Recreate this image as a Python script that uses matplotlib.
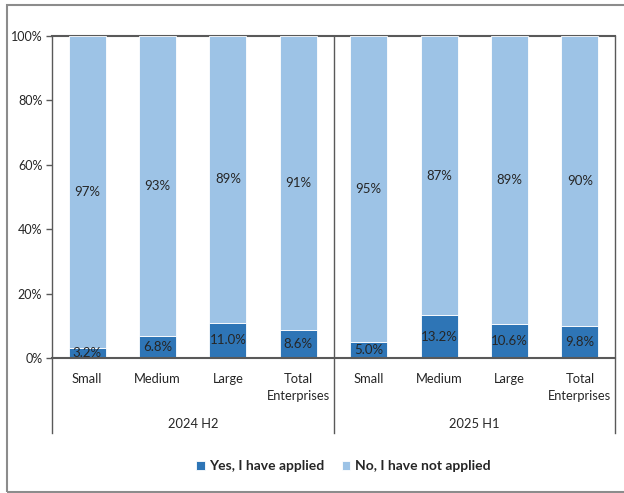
import numpy as np
import matplotlib.pyplot as plt
from matplotlib.patches import Rectangle

plt.rcParams['font.family'] = ['Lato', 'DejaVu Sans']

categories = ['Small', 'Medium', 'Large', 'Total\nEnterprises',
              'Small', 'Medium', 'Large', 'Total\nEnterprises']
periods = ['2024 H2', '2025 H1']
yes_applied = [3.2, 6.8, 11.0, 8.6, 5.0, 13.2, 10.6, 9.8]
no_labels = [97, 93, 89, 91, 95, 87, 89, 90]

c_yes = '#2E75B6'
c_no = '#9DC3E6'
c_line = '#595959'
c_text = '#262626'

fig = plt.figure(figsize=(6.24, 4.93), dpi=100)
ax = fig.add_axes([52/624, 1 - 358/493, (615 - 52)/624, (358 - 36)/493])

x = np.arange(len(categories))
yes = np.array(yes_applied)
no_part = 100 - yes

ax.bar(x, yes, width=0.525, color=c_yes, edgecolor='white', linewidth=0.6,
       zorder=3, label='Yes, I have applied')
ax.bar(x, no_part, bottom=yes, width=0.525, color=c_no, edgecolor='white',
       linewidth=0.6, zorder=3, label='No, I have not applied')

for xi, y_val, n_val in zip(x, yes_applied, no_labels):
    ax.text(xi, y_val / 2, f'{y_val:.1f}%', ha='center', va='center',
            fontsize=9.5, color=c_text, zorder=4)
    ax.text(xi, y_val + (100 - y_val) / 2, f'{n_val}%', ha='center', va='center',
            fontsize=9.5, color=c_text, zorder=4)

ax.set_xlim(-0.5, len(categories) - 0.5)
ax.set_ylim(0, 100)
ax.set_yticks(np.arange(0, 101, 20))
ax.set_yticklabels([f'{v}%' for v in range(0, 101, 20)], fontsize=9, color=c_text)
ax.set_xticks(x)
ax.set_xticklabels(categories, fontsize=9.3, color=c_text, linespacing=1.45)
ax.tick_params(axis='x', length=0, pad=11)
ax.tick_params(axis='y', length=4, color=c_line, width=1, pad=3)

for side in ['left', 'right', 'bottom']:
    ax.spines[side].set_visible(False)
ax.spines['top'].set_color(c_line)
ax.spines['top'].set_linewidth(1.5)
ax.spines['top'].set_zorder(1)

# axis frame: bottom line plus verticals running down through the category labels
low = -0.233
ax.plot([0, 1], [0, 0], transform=ax.transAxes, color=c_line, lw=1.5,
        clip_on=False, zorder=5)
for xa in [0, 0.5, 1]:
    ax.plot([xa, xa], [low, 1], transform=ax.transAxes, color=c_line, lw=1.0,
            clip_on=False, zorder=5)

for i, p in enumerate(periods):
    ax.text(0.25 + 0.5 * i, -0.205, p, transform=ax.transAxes, ha='center',
            va='center', fontsize=9.3, color=c_text)

fig.legend(loc='center', bbox_to_anchor=(0.55, 1 - 466/493), ncol=2, frameon=False,
           prop={'weight': 'bold', 'size': 10}, handlelength=0.6, handleheight=0.6,
           handletextpad=0.3, columnspacing=1.3, labelcolor=c_text)

# outer chart border
fig.patches.append(Rectangle((7/624, 1 - 492/493), 1.0, 487/493, transform=fig.transFigure,
                             fill=False, edgecolor='#8c8c8c', lw=1.5, figure=fig))

plt.savefig('out.png', dpi=100)
